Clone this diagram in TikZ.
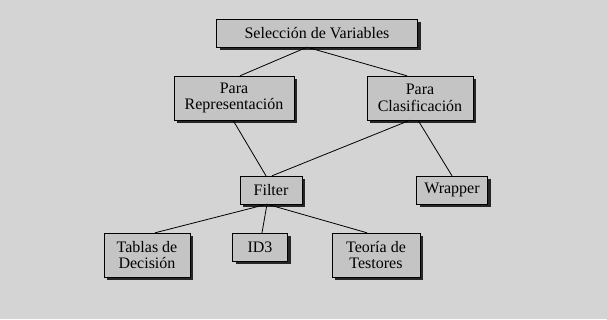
\documentclass[tikz,border=0pt]{standalone}
\usepackage{fontspec}
\setmainfont{Liberation Serif}
\usepackage{xcolor}
\usetikzlibrary{shadows}
\definecolor{bggray}{RGB}{212,212,212}
\definecolor{boxgray}{RGB}{196,196,196}

\tikzset{
    box/.style={draw=black, fill=boxgray, align=center, inner sep=1pt,
        font=\fontsize{16}{16.5}\selectfont,
        drop shadow={shadow xshift=3pt, shadow yshift=-3pt, fill=black!85, opacity=1}},
    link/.style={draw=black, line width=0.8pt}
}

\begin{document}
\begin{tikzpicture}[x=1pt, y=-1pt]
    % Background
    \fill[bggray] (0,0) rectangle (607,319);
    \useasboundingbox (0,0) rectangle (607,319);

    % Boxes
    \node[box, minimum width=201pt, minimum height=28pt] (sel) at (317,33) {Selección de Variables};
    \node[box, minimum width=120pt, minimum height=44pt] (repr) at (234,98) {Para\\Representación};
    \node[box, minimum width=106pt, minimum height=44pt] (clas) at (420,98) {Para\\Clasificación};
    \node[box, minimum width=62pt, minimum height=28pt] (filter) at (271,190) {Filter};
    \node[box, minimum width=71pt, minimum height=28pt] (wrapper) at (452,190) {Wrapper};
    \node[box, minimum width=86pt, minimum height=44pt] (tablas) at (147,255) {Tablas de\\Decisión};
    \node[box, minimum width=55pt, minimum height=28pt] (id3) at (260,247) {ID3};
    \node[box, minimum width=88pt, minimum height=44pt] (testores) at (376,255) {Teoría de\\Testores};

    % Links
    \draw[link] ([xshift=-10pt]sel.south) -- ([xshift=6pt]repr.north);
    \draw[link] ([xshift=-10pt]sel.south) -- ([xshift=-13pt]clas.north);
    \draw[link] ([xshift=-1pt]repr.south) -- ([xshift=-5pt]filter.north);
    \draw[link] ([xshift=-10pt]clas.south) -- ([xshift=1pt]filter.north);
    \draw[link] ([xshift=-2pt]clas.south) -- (wrapper.north);
    \foreach \to/\dx in {tablas/8, id3/2, testores/-9} {
        \draw[link] ([xshift=-4pt]filter.south) -- ([xshift=\dx pt]\to.north);
    }
\end{tikzpicture}
\end{document}
